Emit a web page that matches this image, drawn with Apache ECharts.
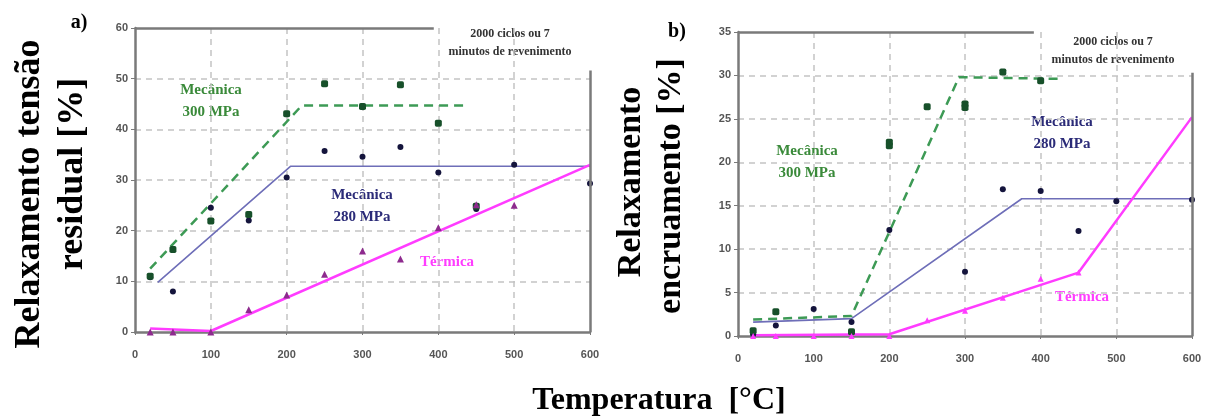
<!DOCTYPE html>
<html><head><meta charset="utf-8">
<script src="https://cdn.jsdelivr.net/npm/echarts@6/dist/echarts.min.js"></script>
<style>html,body{margin:0;padding:0;background:#fff}#c{width:1211px;height:419px}</style>
</head><body><div id="c"></div>
<script>
// ---- panel a) data ----
const aMec300X = [20, 50, 100, 150, 200, 250, 300, 350, 400, 450];
const aMec300Y = [11, 16.3, 21.9, 23.2, 43.1, 49, 44.5, 48.8, 41.2, 24.8];
const aMec280X = [20, 50, 100, 150, 200, 250, 300, 350, 400, 450, 500, 600];
const aMec280Y = [10.8, 8, 24.5, 22, 30.5, 35.7, 34.6, 36.5, 31.5, 24.3, 33, 29.3];
const aTermX = [20, 50, 100, 150, 200, 250, 300, 350, 400, 450, 500];
const aTermY = [0, 0, 0, 4.4, 7.3, 11.4, 16, 14.4, 20.6, 25.1, 25];
const aFit300X = [20, 220, 440];
const aFit300Y = [12.5, 44.7, 44.7];
const aFit280X = [30, 205, 600];
const aFit280Y = [9.8, 32.7, 32.7];
const aFitTermX = [20, 100, 600];
const aFitTermY = [0.7, 0.2, 33];
// ---- panel b) data ----
const bMec300X = [20, 50, 150, 200, 200, 250, 300, 300, 350, 400];
const bMec300Y = [0.6, 2.8, 0.5, 22.3, 21.9, 26.4, 26.7, 26.3, 30.4, 29.4];
const bMec280X = [20, 50, 100, 150, 200, 300, 350, 400, 450, 500, 600];
const bMec280Y = [0.2, 1.2, 3.1, 1.6, 12.2, 7.4, 16.9, 16.7, 12.1, 15.5, 15.7];
const bTermX = [20, 50, 100, 150, 200, 250, 300, 350, 400, 450];
const bTermY = [0, 0, 0, 0, 0, 1.8, 2.9, 4.4, 6.6, 7.3];
const bFit300X = [20, 150, 292, 430];
const bFit300Y = [1.9, 2.3, 29.8, 29.6];
const bFit280X = [20, 150, 375, 600];
const bFit280Y = [1.6, 2.0, 15.8, 15.8];
const bFitTermX = [20, 200, 450, 600];
const bFitTermY = [0.1, 0.2, 7.3, 25.2];
// axis ticks
const xTicks = [0, 100, 200, 300, 400, 500, 600];
const aYMax = 60, aYStep = 10, bYMax = 35, bYStep = 5;

const pairs = (xs, ys) => xs.map((x, i) => [x, ys[i]]);
const serif = '"Liberation Serif","DejaVu Serif",serif';
const GREEN_L = '#3d9a55', GREEN_P = '#17502a', NAVY_P = '#14143c', NAVY_L = '#6e6eb8', MAG = '#ff3cff', MAG_P = '#8e2a8e';
const AX = '#7a7a7a';

function xAxis(gi) {
  return {
    type: 'value', gridIndex: gi, min: 0, max: 600, interval: 100,
    axisLine: { show: true, onZero: false, lineStyle: { color: AX, width: 2.5 } },
    axisTick: { show: true, length: 3, lineStyle: { color: AX } },
    axisLabel: { color: '#555', fontFamily: 'Liberation Sans', fontWeight: 'bold', fontSize: 11, margin: 17 },
    splitLine: { show: true, showMinLine: false, showMaxLine: false, lineStyle: { color: '#c4c4c4', width: 1.5, type: [6, 5] } }
  };
}
function yAxis(gi, max, step) {
  return {
    type: 'value', gridIndex: gi, min: 0, max: max, interval: step,
    axisLine: { show: true, onZero: false, lineStyle: { color: AX, width: 2.5 } },
    axisTick: { show: true, length: 4, lineStyle: { color: AX } },
    axisLabel: { color: '#555', fontFamily: 'Liberation Sans', fontWeight: 'bold', fontSize: 11, margin: 7 },
    splitLine: { show: true, showMinLine: false, showMaxLine: false, lineStyle: { color: '#c4c4c4', width: 1.5, type: [6, 5] } }
  };
}
function fitLine(gi, xs, ys, color, width, type, extra) {
  return Object.assign({
    type: 'line', xAxisIndex: gi, yAxisIndex: gi, data: pairs(xs, ys), showSymbol: false, symbol: 'none',
    lineStyle: { color: color, width: width, type: type }, silent: true, z: 3
  }, extra || {});
}
function pts(gi, xs, ys, color, symbol, size) {
  return { type: 'scatter', xAxisIndex: gi, yAxisIndex: gi, data: pairs(xs, ys), symbol: symbol, symbolSize: size,
    itemStyle: { color: color, opacity: 1 }, z: 4, silent: true };
}
function frame(topEnd, ymax, rightTop) {
  return { markLine: { silent: true, symbol: 'none', label: { show: false },
    lineStyle: { color: AX, width: 2.5, type: 'solid' },
    data: [[{ coord: [0, ymax] }, { coord: [topEnd, ymax] }], [{ coord: [600, 0] }, { coord: [600, rightTop] }]] } };
}
function txt(x, y, t, color, size, extra) {
  return Object.assign({ type: 'text', x: x, y: y, style: { text: t, fill: color, font: 'bold ' + size + 'px ' + serif, textAlign: 'center', textVerticalAlign: 'middle' } }, extra || {});
}
function txtL(x, y, t, color, size) {
  return { type: 'text', x: x, y: y, style: { text: t, fill: color, font: 'bold ' + size + 'px ' + serif, textAlign: 'center', textVerticalAlign: 'middle', lineHeight: size * 1.5 } };
}
function vtxt(x, y, t, size) {
  return { type: 'text', x: x, y: y, rotation: Math.PI / 2, style: { text: t, fill: '#000', font: 'bold ' + size + 'px ' + serif, textAlign: 'center', textVerticalAlign: 'middle' } };
}

const chart = echarts.init(document.getElementById('c'), null, { renderer: 'canvas' });
chart.setOption({
  animation: false,
  grid: [
    { left: 135, top: 28, width: 455, height: 304 },
    { left: 738, top: 32, width: 454, height: 304 }
  ],
  xAxis: [xAxis(0), xAxis(1)],
  yAxis: [yAxis(0, aYMax, aYStep), yAxis(1, bYMax, bYStep)],
  series: [
    fitLine(0, aFit300X, aFit300Y, GREEN_L, 2.5, [9, 6], frame(394, 60, 51.6)),
    fitLine(0, aFit280X, aFit280Y, NAVY_L, 1.6, 'solid'),
    fitLine(0, aFitTermX, aFitTermY, MAG, 2.5, 'solid'),
    pts(0, aMec280X, aMec280Y, NAVY_P, 'circle', 6),
    pts(0, aMec300X, aMec300Y, GREEN_P, 'roundRect', 7),
    pts(0, aTermX, aTermY, MAG_P, 'triangle', 7),
    fitLine(1, bFit300X, bFit300Y, GREEN_L, 2.5, [9, 6], frame(391, 35, 30.3)),
    fitLine(1, bFit280X, bFit280Y, NAVY_L, 1.6, 'solid'),
    fitLine(1, bFitTermX, bFitTermY, MAG, 2.5, 'solid'),
    pts(1, bMec280X, bMec280Y, NAVY_P, 'circle', 6),
    pts(1, bMec300X, bMec300Y, GREEN_P, 'roundRect', 7),
    pts(1, bTermX, bTermY, MAG, 'triangle', 6)
  ],
  graphic: [
    txt(79, 23, 'a)', '#000', 20),
    txt(677, 32, 'b)', '#000', 20),
    txtL(510, 43, '2000 ciclos ou 7\nminutos de revenimento', '#333', 12),
    txtL(1113, 51, '2000 ciclos ou 7\nminutos de revenimento', '#333', 12),
    txtL(211, 101, 'Mecânica\n300 MPa', '#3a8a3a', 15),
    txtL(362, 206, 'Mecânica\n280 MPa', '#2b2b78', 15),
    txt(447, 262, 'Térmica', MAG, 15),
    txtL(807, 162, 'Mecânica\n300 MPa', '#3a8a3a', 15),
    txtL(1062, 133, 'Mecânica\n280 MPa', '#2b2b78', 15),
    txt(1082, 297, 'Térmica', MAG, 15),
    vtxt(30, 194, 'Relaxamento tensão', 36),
    vtxt(73, 174, 'residual [%]', 36),
    vtxt(631, 182, 'Relaxamento', 34),
    vtxt(671, 186, 'encruamento [%]', 34),
    txt(659, 401, 'Temperatura  [°C]', '#000', 32)
  ]
});
</script></body></html>
